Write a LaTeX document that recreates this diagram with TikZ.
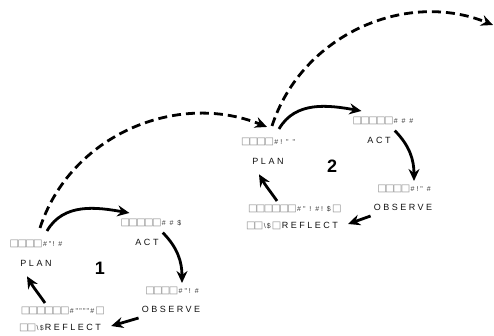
\documentclass[tikz,border=0pt]{standalone}
\usepackage{fontspec}
\setmainfont{Liberation Sans}
\newfontfamily\spcfont[LetterSpace=28]{Liberation Sans}
\newfontfamily\symfont{DejaVu Sans}
\usetikzlibrary{arrows.meta}

\definecolor{tofugray}{HTML}{8C8C8C}
\definecolor{glyphgray}{HTML}{333333}
\definecolor{stagegray}{HTML}{111111}

\newcommand\tf{{\fontsize{10}{10}\symfont\color{tofugray}□}\kern-1.6pt}
\newcommand\lowtxt[1]{{\fontsize{7}{8}\selectfont\color{glyphgray}#1}}

\begin{document}
\begin{tikzpicture}[x=1pt,y=1pt,
  garb/.style={font=\fontsize{7}{8}\spcfont,text=glyphgray,inner sep=0pt},
  stage/.style={font=\fontsize{9}{10}\spcfont,text=stagegray,inner sep=0pt},
  count/.style={font=\fontsize{18}{20}\selectfont\bfseries,inner sep=0pt},
  cyc/.style={line width=2.8pt,-{Stealth[length=12pt,width=11pt,inset=4pt]}},
  jump/.style={cyc,dash pattern=on 9pt off 5pt}]
\useasboundingbox (0,0) rectangle (494,336);
% first cycle
\node[garb] (plan1) at (36,92) {\tf\tf\tf\tf\kern2pt\#"\,!\ \#};
\node[stage] (plan1n) at (36,73) {PLAN};
\node[garb] (act1) at (151,113) {\tf\tf\tf\tf\tf\kern2pt\#\ \#\ \$};
\node[stage] (act1n) at (147,94) {ACT};
\node[garb] (obs1) at (172,45) {\tf\tf\tf\tf\kern2pt\#"!\ \#};
\node[stage] (obs1n) at (171,27) {OBSERVE};
\node[garb] (refl1) at (62,25) {\tf\tf\tf\tf\tf\tf\kern2pt\#"\,"\,"\,"\,\#\,\tf};
\node[stage] (refl1n) at (60,8) {\lowtxt{\tf\tf\kern2pt\textbackslash\,\$\,}REFLECT};
\node[count] (num1) at (100,68) {1};
\draw[cyc] ([xshift=11pt,yshift=9pt]plan1.north) to[out=60,in=170] ([xshift=9pt,yshift=6pt]act1.north west);
\draw[cyc] ([xshift=4pt,yshift=6pt]act1n.north east) to[out=-45,in=90] ([xshift=10pt,yshift=4pt]obs1.north);
\draw[cyc] ([xshift=-3pt,yshift=-9pt]obs1n.west) -- ([xshift=10pt,yshift=2pt]refl1n.east);
\draw[cyc] ([xshift=-17pt,yshift=4pt]refl1.north) to[out=125,in=-60] ([xshift=-9pt,yshift=-10pt]plan1n.south);
% second cycle
\begin{scope}[shift={(232,102)}]
\node[garb] (plan2) at (36,92) {\tf\tf\tf\tf\kern2pt\#!\ "\ "};
\node[stage] (plan2n) at (36,73) {PLAN};
\node[garb] (act2) at (151,113) {\tf\tf\tf\tf\tf\kern2pt\#\ \#\ \#};
\node[stage] (act2n) at (147,94) {ACT};
\node[garb] (obs2) at (172,45) {\tf\tf\tf\tf\kern2pt\#!"\ \#};
\node[stage] (obs2n) at (171,27) {OBSERVE};
\node[garb] (refl2) at (62,25) {\tf\tf\tf\tf\tf\tf\kern2pt\#"\ !\ \#!\ \$\,\tf};
\node[stage] (refl2n) at (60,8) {\lowtxt{\tf\tf\kern2pt\textbackslash\,\$\,\tf\kern2pt}REFLECT};
\node[count] (num2) at (100,68) {2};
\draw[cyc] ([xshift=11pt,yshift=9pt]plan2.north) to[out=60,in=170] ([xshift=9pt,yshift=6pt]act2.north west);
\draw[cyc] ([xshift=4pt,yshift=6pt]act2n.north east) to[out=-45,in=90] ([xshift=10pt,yshift=4pt]obs2.north);
\draw[cyc] ([xshift=-3pt,yshift=-9pt]obs2n.west) -- ([xshift=10pt,yshift=2pt]refl2n.east);
\draw[cyc] ([xshift=-17pt,yshift=4pt]refl2.north) to[out=125,in=-60] ([xshift=-9pt,yshift=-10pt]plan2n.south);
\end{scope}
\coordinate (plan3) at (493,311);
% jumps between cycles
\draw[jump] ([xshift=4pt,yshift=12pt]plan1.north) to[out=72,in=158] ([xshift=-1pt,yshift=11pt]plan2.north);
\draw[jump] ([xshift=4pt,yshift=12pt]plan2.north) to[out=72,in=158] (plan3);
\end{tikzpicture}
\end{document}
